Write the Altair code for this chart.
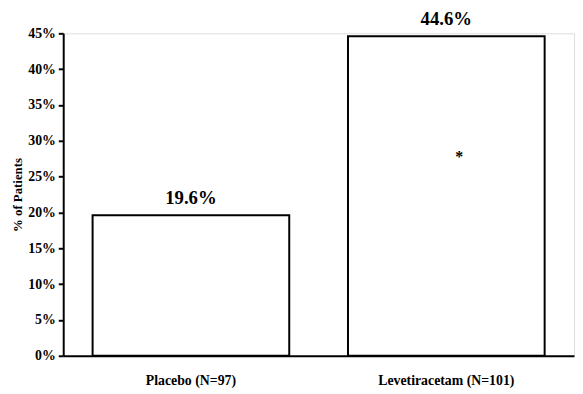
import altair as alt
import pandas as pd

groups = ["Placebo (N=97)", "Levetiracetam (N=101)"]
values = [0.196, 0.446]
labels = ["19.6%", "44.6%"]
marks = ["", "*"]
mark_pos = [0.0, 0.278]
ticks = [0.0, 0.05, 0.10, 0.15, 0.20, 0.25, 0.30, 0.35, 0.40, 0.45]

df = pd.DataFrame({"group": groups, "value": values, "label": labels,
                   "mark": marks, "mpos": mark_pos})

FONT = "Liberation Serif"


def xenc():
    return alt.X("group:N", sort=groups, title=None,
                 scale=alt.Scale(paddingInner=0.23, paddingOuter=0.115),
                 axis=alt.Axis(labelAngle=0, ticks=False, labelPadding=18,
                               labelFont=FONT, labelFontSize=14, labelFontWeight="bold",
                               labelColor="black", domainColor="black", domainWidth=2))


def yenc(field):
    return alt.Y(field, title="% of Patients",
                 scale=alt.Scale(domain=[0, 0.45], nice=False),
                 axis=alt.Axis(format=".0%", values=ticks,
                               labelOverlap=False, labelBound=False,
                               grid=False, tickSize=5, tickWidth=2, tickColor="black",
                               domainColor="black", domainWidth=2,
                               labelFont=FONT, labelFontSize=14, labelFontWeight="bold",
                               labelColor="black", labelPadding=3,
                               titleFont=FONT, titleFontSize=13, titleFontWeight="bold",
                               titleColor="black", titlePadding=3))


bars = alt.Chart(df).mark_bar(fill="white", stroke="black", strokeWidth=2).encode(
    x=xenc(), y=yenc("value:Q"))

text = alt.Chart(df).mark_text(font=FONT, fontSize=19, fontWeight="bold",
                               baseline="alphabetic", dy=-11, color="black").encode(
    x=xenc(), y=yenc("value:Q"), text="label:N")

star = alt.Chart(df).mark_text(font=FONT, fontSize=16, fontWeight="bold",
                               baseline="middle", dx=13, color="black").encode(
    x=xenc(), y=yenc("mpos:Q"), text="mark:N")

chart = (bars + text + star).properties(
    width=518, height=327,
    padding={"left": 56, "top": 23, "right": 1, "bottom": 30},
    autosize=alt.AutoSizeParams(type="none"),
).configure_view(stroke=None).configure(background="white")

chart.save("out.html", embed_options={"renderer": "svg", "actions": False})
